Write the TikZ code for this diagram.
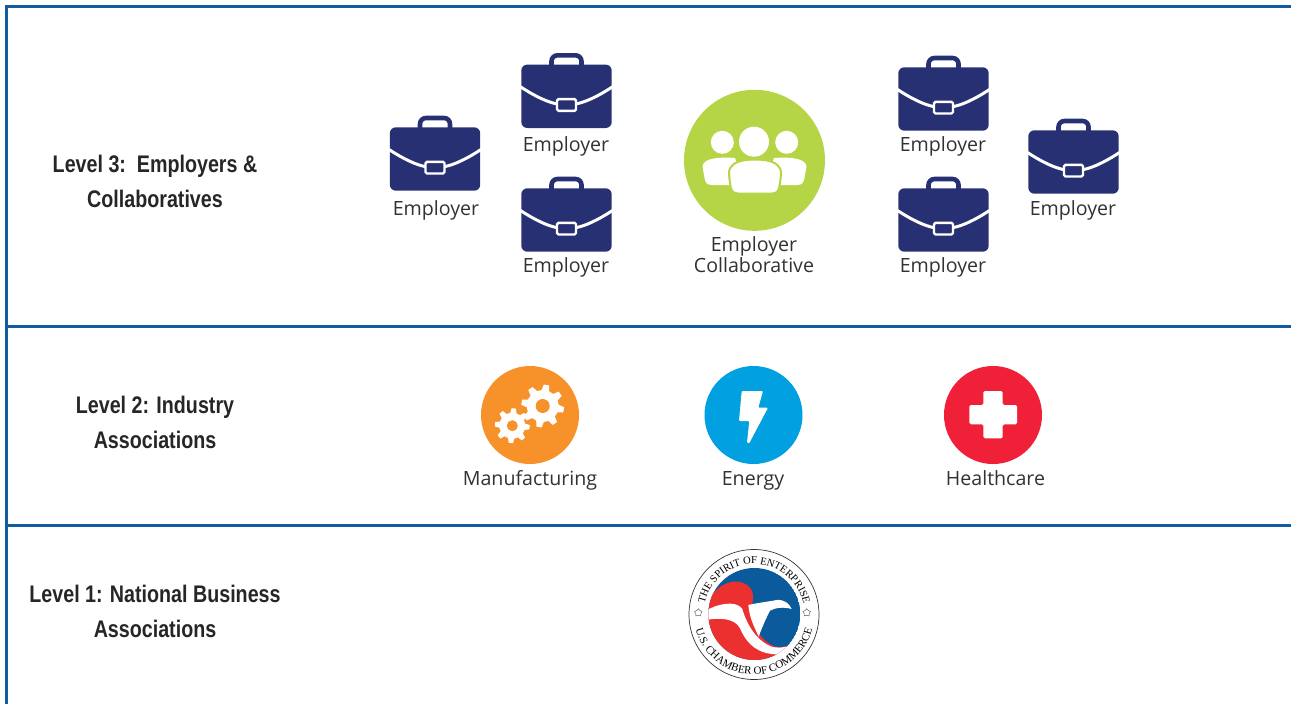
\documentclass[tikz,border=0pt]{standalone}
\usepackage{fontspec}
\usepackage{tikz}
\usetikzlibrary{shapes.geometric,decorations.text}
\setmainfont{Open Sans}
\newfontfamily\headfont[FakeStretch=0.82]{Liberation Sans}
\newfontfamily\sealfont{Liberation Serif}
\definecolor{framblue}{RGB}{16, 92, 158}
\definecolor{casenavy}{RGB}{40, 48, 116}
\definecolor{collabgreen}{RGB}{182, 213, 70}
\definecolor{gearorange}{RGB}{247, 146, 43}
\definecolor{boltblue}{RGB}{0, 160, 225}
\definecolor{crossred}{RGB}{239, 32, 56}
\definecolor{sealred}{RGB}{236, 48, 48}
\definecolor{sealblue}{RGB}{10, 90, 156}
\definecolor{labelgrey}{RGB}{50, 50, 50}
\tikzset{
	frameline/.style={draw=framblue,line width=3pt},
	levelhead/.style={align=center,inner sep=0pt,text=black!85,font=\headfont\bfseries\fontsize{24}{35}\selectfont},
	unitlabel/.style={anchor=base,inner sep=0pt,text=labelgrey,font=\fontsize{19.6}{21}\selectfont},
	twolabel/.style={align=center,inner sep=0pt,text=labelgrey,font=\fontsize{19.6}{20.5}\selectfont},
	sealtext/.style 2 args={decorate,decoration={text along path,text align=center,text={|\sealfont\fontsize{#1}{12}\selectfont|#2}}},
	sealstar/.style={star,star points=5,draw=black!70,line width=0.4pt,inner sep=0pt,minimum size=8pt},
	disc/.style={circle,inner sep=0pt,minimum size=98pt},
	briefcase/.pic={
		\draw[casenavy,line width=4.6pt,rounded corners=6pt] (-15,-30)--(-15,-41)--(15,-41)--(15,-30);
		\fill[casenavy,rounded corners=6pt] (-45.2,-31.7) rectangle (45.2,31.7);
		\draw[white,line width=3pt] (-46,-9.5) .. controls (-30,1) and (-18,6) .. (-10,7.5);
		\draw[white,line width=3pt] (46,-9.5) .. controls (30,1) and (18,6) .. (10,7.5);
		\draw[white,fill=casenavy,line width=2.4pt,rounded corners=1.5pt] (-9.5,2.8) rectangle (9.5,14.5);
	}
}
\newcommand{\cog}[4]{
	\fill[white] ({#4-14}:#3) \foreach \i in {0,...,7} {
		-- ({#4+\i*45-14}:#3) -- ({#4+\i*45-7}:#2) -- ({#4+\i*45+7}:#2) -- ({#4+\i*45+14}:#3)
	} -- cycle;
	\fill[gearorange] (0,0) circle[radius=#1];
}
\begin{document}
\begin{tikzpicture}[x=1pt,y=-1pt]
	\useasboundingbox (0,0) rectangle (1291,704);

	\coordinate (c1) at (435,159);
	\coordinate (c2) at (566.5,96.3);
	\coordinate (c3) at (566.5,220);
	\coordinate (c4) at (943.5,99);
	\coordinate (c5) at (943.5,220);
	\coordinate (c6) at (1073.5,162);

	\draw[frameline] (6.5,704)--(6.5,6.5)--(1291,6.5);
	\draw[frameline] (6.5,326)--(1291,326);
	\draw[frameline] (6.5,525)--(1291,525);

	\node[levelhead] (head3) at (155,181) {Level 3:\ \ Employers \&\\Collaboratives};
	\node[levelhead] (head2) at (155,422.5) {Level 2: Industry\\Associations};
	\node[levelhead] (head1) at (155,611.5) {Level 1: National Business\\Associations};

	\pic at (c1) {briefcase};
	\pic at (c2) {briefcase};
	\pic at (c3) {briefcase};
	\pic at (c4) {briefcase};
	\pic at (c5) {briefcase};
	\pic at (c6) {briefcase};

	\node[unitlabel] (emp1) at (436,215) {Employer};
	\node[unitlabel] (emp2) at (566,151) {Employer};
	\node[unitlabel] (emp3) at (566,272.5) {Employer};
	\node[unitlabel] (emp4) at (943,151) {Employer};
	\node[unitlabel] (emp5) at (943,272.5) {Employer};
	\node[unitlabel] (emp6) at (1073,215) {Employer};

	\node[disc,fill=collabgreen,minimum size=141pt] (collab) at (754.5,160.3) {};
	\fill[white] (722.3,142.3) circle[radius=11.5];
	\fill[white] (786.7,142.3) circle[radius=11.5];
	\fill[white] (754,141.7) circle[radius=15];
	\fill[white] (712,185) .. controls (706,185) and (705,182) .. (704,175) .. controls (703,168) and (701,165) .. (705,162) .. controls (710,158) and (720,157) .. (735,158)--(745,185)--cycle;
	\fill[white] (797,185) .. controls (803,185) and (804,182) .. (805,175) .. controls (806,168) and (808,165) .. (804,162) .. controls (799,158) and (789,157) .. (774,158)--(764,185)--cycle;
	\draw[fill=white,draw=collabgreen,line width=2pt] (738,193.5) .. controls (732,193.5) and (731,190) .. (730,183) .. controls (729,175) and (728,170) .. (731,167) .. controls (735,161) and (745,159.5) .. (755,159.5) .. controls (765,159.5) and (775,161) .. (779,167) .. controls (782,170) and (781,175) .. (780,183) .. controls (779,190) and (778,193.5) .. (772,193.5)--cycle;
	\node[twolabel] (collablabel) at (754,254.5) {Employer\\Collaborative};

	\node[disc,fill=gearorange] (manu) at (530,415) {};
	\node[disc,fill=boltblue] (energy) at (753.5,415) {};
	\node[disc,fill=crossred] (health) at (993,415) {};
	\begin{scope}[shift={(542.7,406)}]
		\cog{7}{21.5}{16}{10}
	\end{scope}
	\begin{scope}[shift={(512.3,425.7)}]
		\cog{5.5}{17.5}{13}{5}
	\end{scope}
	\fill[white,rounded corners=1pt] (741.7,391)--(763,391)--(758.3,407.7)--(768,407.7)--(749,443.6)--(747,442.5)--(749.3,421)--(739,421)--cycle;
	\fill[white,rounded corners=1.5pt] (983.3,391)--(1002.7,391)--(1002.7,405)--(1017,405)--(1017,424.3)--(1002.7,424.3)--(1002.7,438.3)--(983.3,438.3)--(983.3,424.3)--(969.3,424.3)--(969.3,405)--(983.3,405)--cycle;
	\node[unitlabel] (manulabel) at (530,485.5) {Manufacturing};
	\node[unitlabel] (energylabel) at (753,485.5) {Energy};
	\node[unitlabel] (healthlabel) at (995.5,485.5) {Healthcare};

	\begin{scope}[shift={(680,540)},scale=1/3]
		\clip (223,222) circle[radius=138];
		\fill[sealblue] (223,222) circle[radius=138];
		\fill[sealred] (70,225) .. controls (85,150) and (140,120) .. (175,125) .. controls (205,130) and (225,150) .. (218,185) .. controls (205,230) and (225,290) .. (280,318) .. controls (310,328) and (345,312) .. (372,285)--(372,380)--(70,380)--cycle;
		\fill[white] (78,212) .. controls (110,192) and (165,180) .. (186,205) .. controls (200,250) and (225,300) .. (275,320) .. controls (305,328) and (340,318) .. (372,295)--(372,315) .. controls (345,335) and (310,348) .. (275,342) .. controls (220,335) and (195,300) .. (180,265) .. controls (165,235) and (120,232) .. (78,240)--cycle;
		\fill[white] (205,195) .. controls (235,188) and (265,185) .. (290,180) .. controls (312,178) and (328,190) .. (335,207) .. controls (312,200) and (285,203) .. (270,212) .. controls (258,235) and (245,265) .. (236,290) .. controls (225,265) and (208,235) .. (205,195)--cycle;
	\end{scope}
	\begin{scope}[shift={(754,614.5)},y=1pt]
		\draw[black!80,line width=0.7pt] (0,0) circle[radius=65];
		\path[sealtext={10.6}{THE SPIRIT OF ENTERPRISE}] (178:50.5) arc[start angle=178,end angle=2,radius=50.5];
		\path[sealtext={11}{U.S. CHAMBER OF COMMERCE}] (186:60) arc[start angle=186,end angle=354,radius=60];
		\node[sealstar] (starl) at (-55.7,1.8) {};
		\node[sealstar] (starr) at (52.7,1.8) {};
	\end{scope}
\end{tikzpicture}
\end{document}
